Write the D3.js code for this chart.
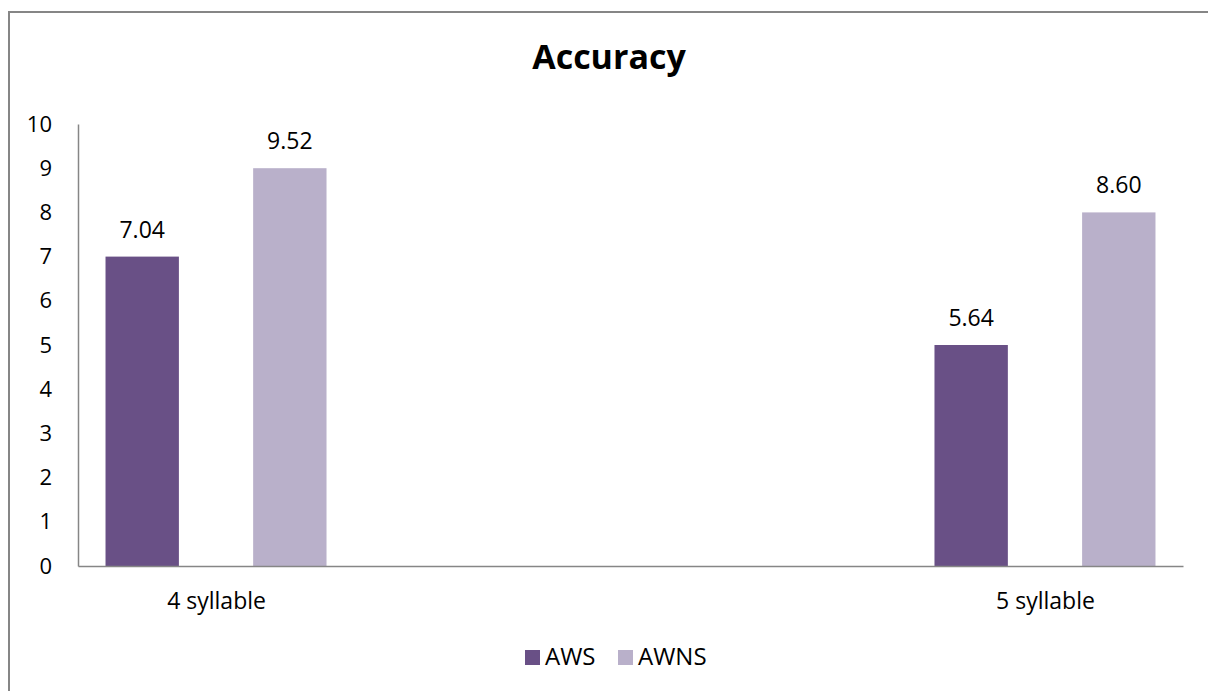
<!DOCTYPE html>
<html>
<head>
<meta charset="utf-8">
<script src="https://cdn.jsdelivr.net/npm/d3@7"></script>
<style>
  html, body { margin: 0; padding: 0; background: #fff; }
  svg { display: block; }
  text { font-family: "Open Sans", sans-serif; fill: #000; }
</style>
</head>
<body>
<svg id="chart" width="1208" height="691"></svg>
<script>
const title = "Accuracy";
const categories = ["4 syllable", "5 syllable"];
const series = ["AWS", "AWNS"];
const barValuesAWS = [7, 5];
const barValuesAWNS = [9, 8];
const labelsAWS = ["7.04", "5.64"];
const labelsAWNS = ["9.52", "8.60"];
const yTicks = [0, 1, 2, 3, 4, 5, 6, 7, 8, 9, 10];
const colors = ["#695086", "#b9b0ca"];

const rows = categories.map((c, i) => ({
  category: c,
  items: [
    { series: series[0], value: barValuesAWS[i], label: labelsAWS[i] },
    { series: series[1], value: barValuesAWNS[i], label: labelsAWNS[i] }
  ]
}));

const svg = d3.select("#chart");

// outer chart border
svg.append("rect")
  .attr("x", 9).attr("y", 12)
  .attr("width", 1220).attr("height", 700)
  .attr("fill", "#fff")
  .attr("stroke", "#868686").attr("stroke-width", 2);

const plot = { left: 78, right: 1183, top: 124, bottom: 566 };

const y = d3.scaleLinear().domain([0, 10]).range([plot.bottom, plot.top]);
const x = d3.scalePoint().domain(categories).range([plot.left, plot.right]).padding(0.1665);
const xs = d3.scaleBand().domain(series).range([-110.5, 110.5]).paddingInner(0.503).paddingOuter(0);
const color = d3.scaleOrdinal().domain(series).range(colors);

// title
svg.append("text")
  .attr("x", 609).attr("y", 69)
  .attr("text-anchor", "middle")
  .style("font-size", "34px").style("font-weight", "bold")
  .text(title);

// y axis
const yAxis = svg.append("g")
  .attr("transform", `translate(${plot.left},0)`)
  .call(d3.axisLeft(y).tickValues(yTicks).tickFormat(d3.format("d")).tickSize(0).tickSizeOuter(0).tickPadding(26));
yAxis.select(".domain").attr("stroke", "#868686").attr("stroke-width", 1.5);
yAxis.selectAll("text").style("font-size", "22px").style("font-family", "'Open Sans', sans-serif").attr("fill", "#000");

// bars
const groups = svg.append("g").selectAll("g")
  .data(rows).join("g")
  .attr("transform", d => `translate(${x(d.category)},0)`);

groups.selectAll("rect")
  .data(d => d.items).join("rect")
  .attr("x", d => xs(d.series))
  .attr("width", xs.bandwidth())
  .attr("y", d => y(d.value))
  .attr("height", d => y(0) - y(d.value))
  .attr("fill", d => color(d.series));

groups.selectAll("text.val")
  .data(d => d.items).join("text")
  .attr("class", "val")
  .attr("x", d => xs(d.series) + xs.bandwidth() / 2)
  .attr("y", d => y(d.value) - 19)
  .attr("text-anchor", "middle")
  .style("font-size", "23px")
  .text(d => d.label);

// x axis
const xAxis = svg.append("g")
  .attr("transform", `translate(0,${plot.bottom})`)
  .call(d3.axisBottom(x).tickSize(0).tickSizeOuter(0).tickPadding(27));
xAxis.select(".domain").attr("stroke", "#868686").attr("stroke-width", 1.5);
xAxis.selectAll("text").style("font-size", "23px").style("font-family", "'Open Sans', sans-serif").attr("fill", "#000");

// legend
const legendX = [525, 618];
const legend = svg.append("g").selectAll("g")
  .data(series).join("g")
  .attr("transform", (d, i) => `translate(${legendX[i]},650)`);
legend.append("rect")
  .attr("width", 15).attr("height", 15)
  .attr("fill", d => color(d));
legend.append("text")
  .attr("x", 20).attr("y", 14.5)
  .style("font-size", "24px")
  .text(d => d);
</script>
</body>
</html>
